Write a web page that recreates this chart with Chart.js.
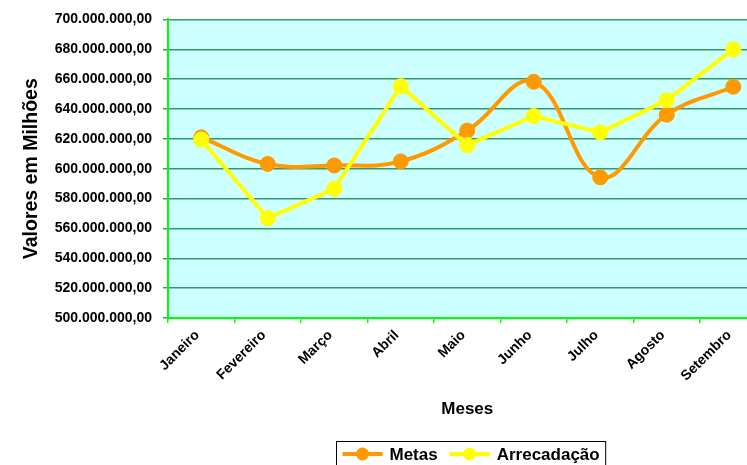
<!DOCTYPE html>
<html>
<head>
<meta charset="utf-8">
<script src="https://cdn.jsdelivr.net/npm/chart.js@4/dist/chart.umd.min.js"></script>
<style>
  html, body { margin: 0; padding: 0; background: #fff; overflow: hidden; }
  #wrap { width: 747px; height: 465px; overflow: hidden; }
</style>
</head>
<body>
<div id="wrap"><canvas id="chart" width="775" height="465"></canvas></div>
<script>
// ===== DATA (valores em milhões) =====
const months = ['Janeiro', 'Fevereiro', 'Março', 'Abril', 'Maio', 'Junho', 'Julho', 'Agosto', 'Setembro'];
const metas = [621, 603.2, 602.2, 604.9, 625.5, 658.2, 594.2, 636.2, 654.9];
const arrecadacao = [619.6, 566.9, 586.5, 655.3, 615.8, 635.3, 624.3, 645.9, 679.9];
const seriesNames = ['Metas', 'Arrecadação'];
const seriesColors = ['#ff9900', '#ffff00'];
const yMin = 500, yMax = 700, yStep = 20;

const FONT = '"Liberation Sans", Arial, sans-serif';

// 700 -> "700.000.000,00"
function fmt(v) {
  let n = Math.round(v * 1000000);
  return String(n).replace(/\B(?=(\d{3})+(?!\d))/g, '.') + ',00';
}

// ===== PLOT BACKGROUND =====
const plotBg = {
  id: 'plotBg',
  beforeDraw(chart) {
    const a = chart.chartArea;
    chart.ctx.save();
    chart.ctx.fillStyle = '#ccffff';
    chart.ctx.fillRect(a.left, a.top, a.right - a.left, a.bottom - a.top);
    chart.ctx.restore();
  }
};

// ===== LEGEND WITH BORDER =====
const legendBox = {
  id: 'legendBox',
  afterDraw(chart) {
    const ctx = chart.ctx;
    const a = chart.chartArea;
    ctx.save();
    ctx.font = 'bold 17px ' + FONT;
    let lineW = 40, gap = 7, sep = 12, pad = 6;
    let widths = seriesNames.map(n => ctx.measureText(n).width);
    let total = pad * 2 + widths.reduce((s, w) => s + lineW + gap + w, 0) + sep * (seriesNames.length - 1);
    let x = Math.round((a.left + a.right) / 2 + 3 - total / 2) + 0.5;
    let top = 441.5, y = 454;
    ctx.strokeStyle = '#000';
    ctx.lineWidth = 1;
    ctx.strokeRect(x, top, total, 30);
    let cx = x + pad;
    seriesNames.forEach((n, i) => {
      ctx.strokeStyle = seriesColors[i];
      ctx.fillStyle = seriesColors[i];
      ctx.lineWidth = 4;
      ctx.beginPath();
      ctx.moveTo(cx, y);
      ctx.lineTo(cx + lineW, y);
      ctx.stroke();
      ctx.beginPath();
      ctx.arc(cx + lineW / 2, y, 6.5, 0, Math.PI * 2);
      ctx.fill();
      cx += lineW + gap;
      ctx.fillStyle = '#000';
      ctx.textBaseline = 'middle';
      ctx.fillText(n, cx, y + 1);
      cx += widths[i] + sep;
    });
    ctx.restore();
  }
};

new Chart(document.getElementById('chart'), {
  type: 'line',
  data: {
    labels: months,
    datasets: [{
      label: seriesNames[0],
      data: metas,
      borderColor: seriesColors[0],
      backgroundColor: seriesColors[0],
      borderWidth: 4,
      pointRadius: 7.5,
      pointBorderWidth: 1,
      tension: 0.4,
      order: 1
    }, {
      label: seriesNames[1],
      data: arrecadacao,
      borderColor: seriesColors[1],
      backgroundColor: seriesColors[1],
      borderWidth: 4,
      pointRadius: 7.5,
      pointBorderWidth: 1,
      tension: 0,
      order: 0
    }]
  },
  options: {
    responsive: false,
    animation: false,
    layout: { padding: { top: 18, right: 0, bottom: 0, left: 0 } },
    plugins: { legend: { display: false }, tooltip: { enabled: false } },
    scales: {
      x: {
        offset: true,
        afterFit: s => { s.height = 147; s.paddingRight = 0; },
        grid: { offset: true, drawOnChartArea: false, color: '#00ff00', tickLength: 5, lineWidth: 1.5 },
        border: { color: '#00ff00', width: 2 },
        ticks: {
          minRotation: 45, maxRotation: 45, padding: 4, labelOffset: -4, color: '#000',
          font: { family: FONT, size: 14, weight: 'bold' }
        },
        title: {
          display: true, text: 'Meses', color: '#000',
          font: { family: FONT, size: 17, weight: 'bold' },
          padding: { top: 0, bottom: 45 }
        }
      },
      y: {
        min: yMin, max: yMax,
        afterFit: s => { s.width = 168; },
        grid: { color: '#339966', tickColor: '#339966', tickLength: 5, lineWidth: 1.5 },
        border: { color: '#00ff00', width: 2 },
        ticks: {
          stepSize: yStep, padding: 11, color: '#000',
          font: { family: FONT, size: 14, weight: 'bold' },
          callback: v => fmt(v)
        },
        title: {
          display: true, text: 'Valores em Milhões', color: '#000',
          font: { family: FONT, size: 19.5, weight: 'bold' },
          padding: { top: 20, bottom: 0 }
        }
      }
    }
  },
  plugins: [plotBg, legendBox]
});
</script>
</body>
</html>
